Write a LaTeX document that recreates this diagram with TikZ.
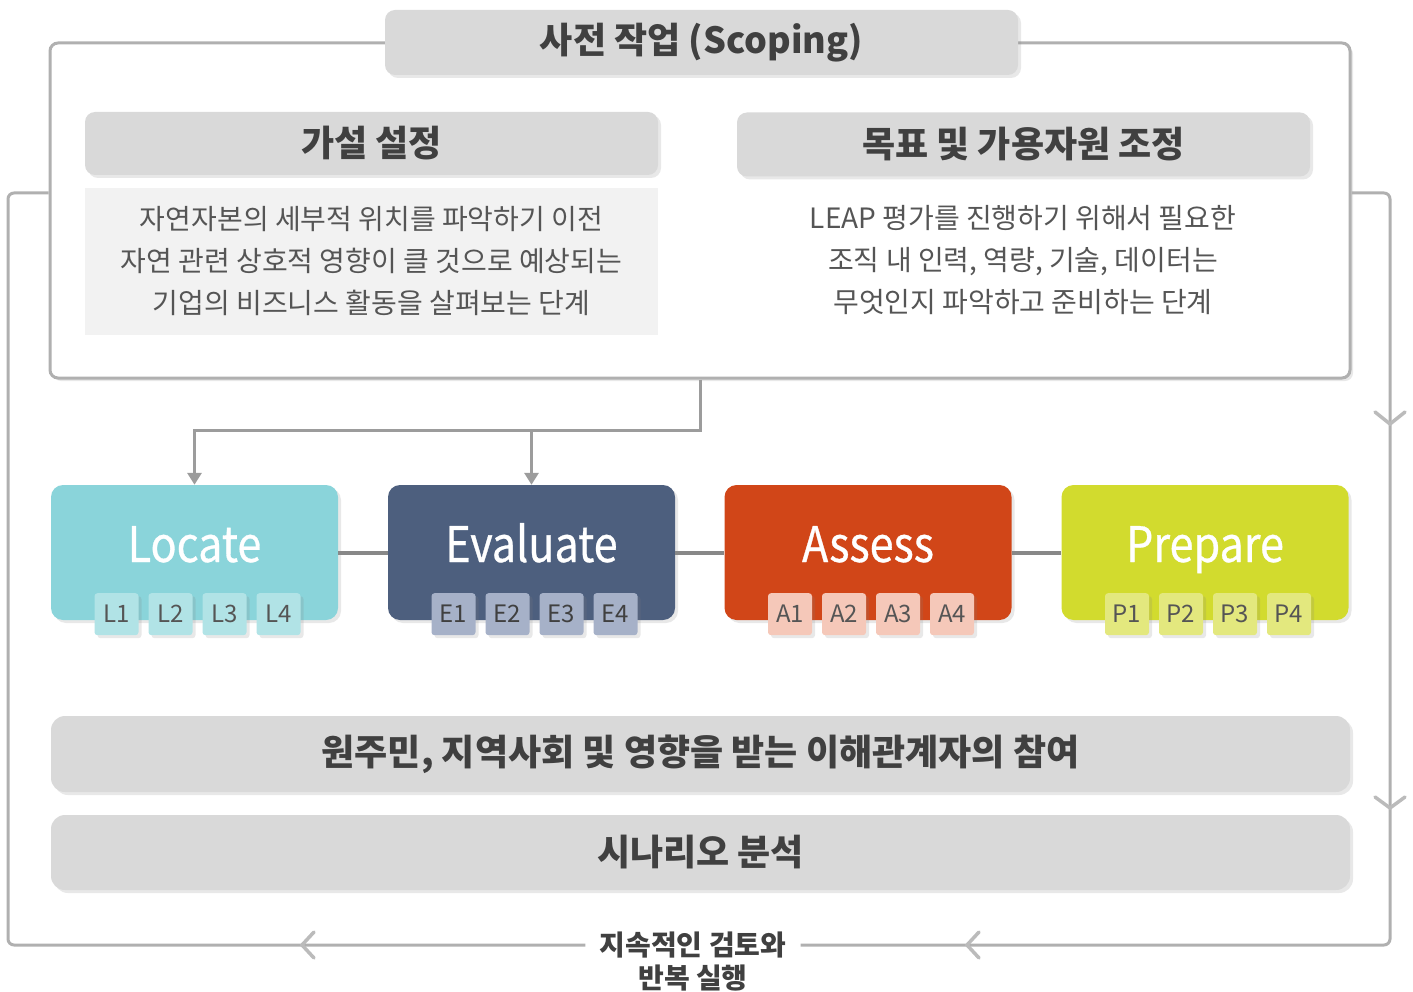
\documentclass[tikz,border=0pt]{standalone}
\usepackage{fontspec}
\setmainfont{Noto Sans CJK KR}
\newfontfamily\phasefont{Noto Sans CJK KR}[FakeStretch=0.88,FakeBold=0.6]
\usetikzlibrary{arrows.meta,shadows}

\definecolor{framegray}{HTML}{B0B0B0}
\definecolor{chevgray}{HTML}{BBBBBB}
\definecolor{conngray}{HTML}{9C9C9C}
\definecolor{linkgray}{HTML}{888888}
\definecolor{headgray}{HTML}{D9D9D9}
\definecolor{descgray}{HTML}{F2F2F2}
\definecolor{txtdark}{HTML}{404040}
\definecolor{txtgray}{HTML}{555555}
\definecolor{locfill}{HTML}{8AD4DA}
\definecolor{loctag}{HTML}{B1E3E6}
\definecolor{evafill}{HTML}{4D5F7E}
\definecolor{evatag}{HTML}{A6B1C8}
\definecolor{assfill}{HTML}{D14618}
\definecolor{asstag}{HTML}{F5C8B9}
\definecolor{prefill}{HTML}{D2DB2E}
\definecolor{pretag}{HTML}{E3E87E}

\newcommand{\fsz}[2]{\fontsize{#1}{#2}\selectfont}

\tikzset{
  softshadow/.style={drop shadow={shadow xshift=3pt,shadow yshift=-3pt,opacity=.18}},
  frame/.style={draw=framegray, line width=3pt, rounded corners=8pt, fill=white,
    minimum width=1300pt, minimum height=335pt, softshadow},
  head/.style={fill=headgray, rounded corners=10pt, text=txtdark,
    font=\bfseries\fsz{36}{36}, minimum width=573pt, minimum height=63pt, softshadow},
  desc/.style={text=txtgray, font=\fsz{28}{42}, align=center},
  phase/.style={rounded corners=12pt, minimum width=287pt, minimum height=135pt,
    text=white, font=\phasefont\fsz{49}{49}, text height=30pt, text depth=11pt, softshadow},
  tag/.style={rounded corners=3pt, minimum width=44pt, minimum height=42pt,
    inner sep=0pt, font=\fsz{24}{24}, softshadow},
  bar/.style={fill=headgray, rounded corners=14pt, minimum width=1299pt,
    minimum height=76pt, text=txtdark, font=\bfseries\fsz{36}{36}, softshadow},
  loopline/.style={draw=framegray, line width=3pt, rounded corners=6pt},
  chev/.style={draw=chevgray, line width=3.5pt, line cap=round},
  conn/.style={draw=conngray, line width=3pt, -{Triangle[width=14pt,length=12pt]}},
  link/.style={draw=linkgray, line width=4pt}
}

\begin{document}
\begin{tikzpicture}[x=1pt,y=-1pt]
\useasboundingbox (0,0) rectangle (1413,992);

% scoping block
\node[frame] (scope) at (700,210.5) {};
\node[head, minimum width=633pt, minimum height=65pt] (scopehead) at (701.5,42.5) {사전 작업 (Scoping)};
\node[head] (hyphead) at (371.5,143.5) {가설 설정};
\node[desc, fill=descgray, minimum width=573pt, minimum height=147pt] (hypdesc) at (371.5,261.5)
  {자연자본의 세부적 위치를 파악하기 이전\\자연 관련 상호적 영향이 클 것으로 예상되는\\기업의 비즈니스 활동을 살펴보는 단계};
\node[head, minimum height=64pt] (goalhead) at (1023.5,144.5) {목표 및 가용자원 조정};
\node[desc] (goaldesc) at (1023,260)
  {LEAP 평가를 진행하기 위해서 필요한\\조직 내 인력, 역량, 기술, 데이터는\\무엇인지 파악하고 준비하는 단계};

% LEAP phases
\foreach \nm/\x/\ttl/\ltr/\bg/\tg/\tc in {locate/194.5/Locate/L/locfill/loctag/txtgray,
    evaluate/531.5/Evaluate/E/evafill/evatag/txtdark,
    assess/868/Assess/A/assfill/asstag/txtgray,
    prepare/1205/Prepare/P/prefill/pretag/txtgray}{
  \node[phase, fill=\bg] (\nm) at (\x,552.5) {\ttl};
  \foreach \i in {1,...,4}
    \node[tag, fill=\tg, text=\tc] (\nm\i) at ([xshift={(\i-2.5)*54pt+3pt}, yshift=6pt]\nm.south) {\ltr\i};
}
\draw[link] (locate) -- (evaluate);
\draw[link] (evaluate) -- (assess);
\draw[link] (assess) -- (prepare);

\coordinate (split) at (700,430);
\draw[conn] (scope.south) -- (split) -| (locate.north);
\draw[conn] (split) -| (evaluate.north);

% bars
\node[bar] (engage) at (700.5,754) {원주민, 지역사회 및 영향을 받는 이해관계자의 참여};
\node[bar, minimum height=75pt] (scenario) at (700.5,852.5) {시나리오 분석};

% feedback loop
\node[text=txtdark, font=\bfseries\fsz{28}{33}, align=center, inner xsep=14pt] (review) at (693,962) {지속적인 검토와\\반복 실행};
\draw[loopline] (scope.west |- 0,193) -- (8,193) -- (8,945) -- (review.west |- 0,945);
\draw[loopline] (scope.east |- 0,193) -- (1390,193) -- (1390,945) -- (review.east |- 0,945);
\draw[chev] (1375,412) -- (1390,424) -- (1405,412);
\draw[chev] (1375,797) -- (1390,808) -- (1405,797);
\draw[chev] (314,932) -- (302,945) -- (314,958);
\draw[chev] (979,932) -- (967,945) -- (979,958);
\end{tikzpicture}
\end{document}
